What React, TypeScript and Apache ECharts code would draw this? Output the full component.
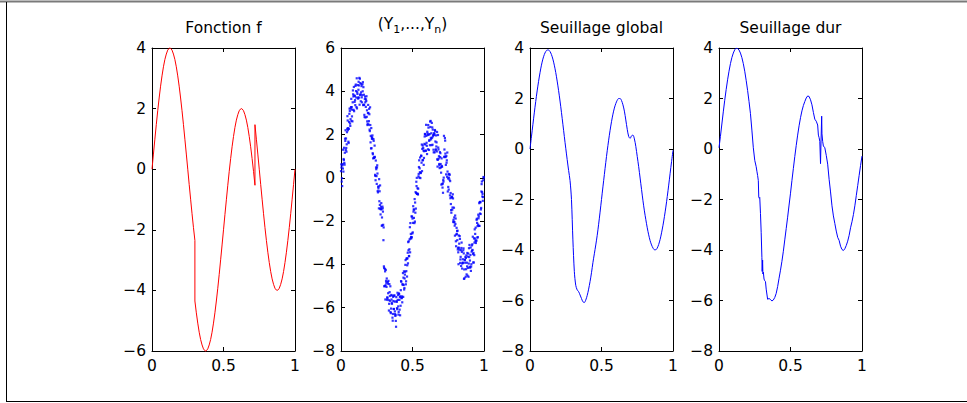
import React, { useEffect, useRef } from "react";
import * as echarts from "echarts";

// Panel titles
const titles = ["Fonction f", "(Y{sub|1},...,Y{sub|n})", "Seuillage global", "Seuillage dur"];

// Axis ranges per panel
const yMins = [-6, -8, -8, -8];
const yMaxs = [4, 6, 4, 4];
const xTicks = [0, 0.5, 1];

// Panel 1: true function f (t, value) — jumps at 0.3 and 0.72
const fPoints: [number, number][] = [
  [0, 0], [0.01, 0.5], [0.02, 0.99], [0.03, 1.47], [0.04, 1.93], [0.05, 2.35], [0.06, 2.74], [0.07, 3.08], [0.08, 3.38], [0.09, 3.62],
  [0.1, 3.8], [0.11, 3.93], [0.12, 3.99], [0.125, 4.0], [0.13, 3.99], [0.14, 3.93], [0.15, 3.8], [0.16, 3.62], [0.17, 3.38], [0.18, 3.08],
  [0.19, 2.74], [0.2, 2.35], [0.21, 1.93], [0.22, 1.47], [0.23, 0.99], [0.24, 0.5], [0.25, 0], [0.26, -0.5], [0.27, -0.99], [0.28, -1.47],
  [0.29, -1.93], [0.3, -2.35], [0.3, -4.35], [0.31, -4.74], [0.32, -5.08], [0.33, -5.38], [0.34, -5.62], [0.35, -5.8], [0.36, -5.93], [0.37, -5.99],
  [0.375, -6.0], [0.38, -5.99], [0.39, -5.93], [0.4, -5.8], [0.41, -5.62], [0.42, -5.38], [0.43, -5.08], [0.44, -4.74], [0.45, -4.35], [0.46, -3.93],
  [0.47, -3.47], [0.48, -2.99], [0.49, -2.5], [0.5, -2.0], [0.51, -1.5], [0.52, -1.01], [0.53, -0.53], [0.54, -0.07], [0.55, 0.35], [0.56, 0.74],
  [0.57, 1.08], [0.58, 1.38], [0.59, 1.62], [0.6, 1.8], [0.61, 1.93], [0.62, 1.99], [0.625, 2.0], [0.63, 1.99], [0.64, 1.93], [0.65, 1.8],
  [0.66, 1.62], [0.67, 1.38], [0.68, 1.08], [0.69, 0.74], [0.7, 0.35], [0.71, -0.07], [0.72, -0.53], [0.72, 1.47], [0.73, 0.99], [0.74, 0.5],
  [0.75, 0], [0.76, -0.5], [0.77, -0.99], [0.78, -1.47], [0.79, -1.93], [0.8, -2.35], [0.81, -2.74], [0.82, -3.08], [0.83, -3.38], [0.84, -3.62],
  [0.85, -3.8], [0.86, -3.93], [0.87, -3.99], [0.875, -4.0], [0.88, -3.99], [0.89, -3.93], [0.9, -3.8], [0.91, -3.62], [0.92, -3.38], [0.93, -3.08],
  [0.94, -2.74], [0.95, -2.35], [0.96, -1.93], [0.97, -1.47], [0.98, -0.99], [0.99, -0.5], [1.0, 0],
];

// Panel 2: noisy observations, set A (t = i/200)
const noisyA = [
  0.31, -0.17, 0.58, 1.3, 0.82, 0.61, 1.71, 1.82, 1.55, 2.85,
  2.3, 2.26, 3.2, 2.4, 3.27, 3.27, 2.61, 3.86, 4.2, 3.51,
  3.36, 4.01, 4.6, 3.88, 3.66, 4.27, 3.38, 4.38, 3.95, 3.72,
  4.32, 3.36, 3.84, 2.81, 3.49, 3.63, 2.82, 2.44, 3.37, 2.62,
  2.23, 2.44, 1.36, 1.88, 1.96, 0.9, 0.93, 1.49, 0.09, 0.48,
  -0.28, 0.2, -0.41, -1.41, -0.62, -1.43, -1.34, -2.21, -1.33, -2.17,
  -4.09, -5.0, -5.62, -4.76, -4.65, -5.55, -5.33, -6.13, -5.28, -5.01,
  -6.04, -5.77, -6.46, -5.5, -6.06, -5.72, -6.38, -6.88, -5.73, -5.31,
  -5.94, -5.34, -6.09, -5.47, -4.77, -5.54, -4.91, -5.5, -4.32, -4.65,
  -4.02, -4.78, -3.72, -3.72, -2.97, -3.61, -2.84, -2.09, -2.73, -2.74,
  -1.88, -1.31, -1.85, -0.98, -1.61, -0.7, 0.0, -0.48, -0.5, 0.5,
  0.44, -0.01, 1.03, 1.54, 0.81, 1.38, 0.92, 1.91, 1.54, 2.45,
  1.48, 2.05, 2.44, 1.29, 2.02, 2.35, 1.78, 2.54, 1.53, 1.98,
  2.05, 1.18, 1.68, 1.96, 1.22, 0.52, 1.4, 1.0, 0.45, 1.14,
  0.24, 0.55, -0.45, -0.1, 1.94, 0.99, 1.12, 0.16, 0.81, 0.29,
  -0.42, 0.01, 0.14, -0.94, -1.49, -0.87, -1.37, -2.03, -1.38, -2.21,
  -2.13, -3.16, -2.59, -2.44, -3.44, -3.23, -2.69, -3.77, -4.07, -3.42,
  -3.93, -3.35, -4.67, -3.78, -3.65, -4.22, -3.92, -4.52, -3.5, -3.25,
  -4.11, -3.56, -4.1, -3.12, -3.33, -3.91, -2.8, -2.38, -2.91, -2.9,
  -1.89, -2.23, -1.7, -2.22, -1.12, -1.13, -1.39, -0.17, -0.74, -0.11,
];

// Panel 2: noisy observations, set B (t = i/200 + 0.0033)
const noisyB = [
  0.48, -0.38, 0.43, 0.87, 0.69, 1.81, 1.29, 1.21, 2.27, 2.2,
  1.61, 2.96, 2.51, 3.2, 2.63, 3.15, 4.04, 3.14, 3.81, 3.59,
  4.31, 3.27, 3.96, 3.71, 4.44, 4.62, 3.83, 3.54, 4.24, 3.82,
  4.42, 3.38, 2.91, 3.75, 3.28, 3.77, 2.61, 2.99, 2.46, 2.94,
  3.26, 1.94, 1.37, 1.84, 1.09, 1.71, 0.95, 0.14, 0.8, 0.08,
  0.58, -0.67, -0.4, -1.08, -0.35, -1.45, -1.45, -2.2, -1.56, -2.29,
  -5.01, -4.32, -4.25, -5.04, -5.52, -4.89, -5.65, -4.91, -5.68, -6.25,
  -5.62, -5.44, -6.29, -6.06, -5.43, -6.29, -6.61, -5.7, -6.07, -5.41,
  -6.2, -5.64, -6.35, -5.19, -5.56, -5.75, -4.4, -4.95, -5.09, -4.34,
  -4.92, -3.74, -4.04, -3.95, -2.93, -3.3, -3.44, -2.59, -1.78, -2.57,
  -2.08, -1.46, -2.09, -1.14, -1.42, -0.38, -0.73, -0.77, 0.18, 0.01,
  0.94, 0.24, 0.7, 1.34, 0.82, 0.6, 1.57, 2.01, 1.25, 1.62,
  2.13, 1.32, 2.0, 1.75, 2.6, 1.85, 1.51, 2.33, 1.92, 1.18,
  2.06, 2.17, 1.32, 1.64, 0.86, 1.98, 0.89, 0.58, 0.96, 0.48,
  0.9, -0.29, -0.69, 0.01, 1.31, 1.72, 0.6, 0.7, 1.17, -0.03,
  -0.54, -0.08, -0.15, -1.21, -0.9, -1.47, -0.95, -2.05, -2.04, -1.74,
  -2.93, -2.31, -2.88, -3.23, -2.66, -3.32, -3.93, -3.34, -2.99, -3.96,
  -3.92, -3.49, -4.64, -3.92, -3.7, -4.46, -3.47, -4.16, -3.96, -3.1,
  -4.15, -4.3, -3.41, -3.07, -3.52, -3.91, -2.99, -2.59, -3.01, -1.94,
  -2.76, -2.16, -1.78, -2.22, -1.11, -1.46, -0.29, -0.86, -0.89, 0.01,
];

// Panel 2: noisy observations, set C (t = i/200 + 0.0017)
const noisyC = [
  0.62, -0.02, 0.64, 0.29, 1.39, 1.16, 2.2, 1.38, 2.11, 2.65,
  1.67, 2.58, 3.09, 2.71, 3.65, 2.84, 3.49, 3.76, 3.08, 3.78,
  4.25, 3.71, 3.21, 4.29, 4.07, 3.71, 4.58, 3.86, 4.34, 3.49,
  4.0, 4.19, 3.37, 3.64, 2.79, 3.55, 3.12, 2.5, 3.0, 3.19,
  2.16, 1.64, 2.3, 1.8, 1.14, 1.79, 0.92, 0.97, -0.11, 0.4,
  0.48, -0.61, -0.49, -0.06, -1.25, -1.69, -1.17, -1.83, -1.41, -2.88,
  -4.16, -4.21, -4.96, -4.85, -5.63, -4.81, -4.76, -5.82, -5.46, -6.2,
  -5.41, -5.82, -6.6, -5.69, -5.45, -6.17, -6.34, -5.51, -6.02, -5.64,
  -6.32, -5.37, -5.51, -5.91, -4.8, -5.48, -4.94, -4.61, -5.16, -4.47,
  -3.8, -4.31, -4.56, -3.46, -3.35, -3.62, -2.28, -2.8, -2.79, -1.79,
  -2.52, -1.56, -1.47, -2.02, -0.66, -0.18, -0.74, -0.74, 0.07, 0.81,
  0.26, 0.22, 1.01, 0.31, 1.49, 1.26, 1.23, 2.03, 1.26, 1.94,
  1.1, 1.98, 2.32, 1.71, 1.51, 2.63, 2.06, 1.85, 2.23, 1.3,
  1.98, 2.21, 1.28, 1.45, 2.12, 0.83, 1.31, 0.64, 1.19, 0.64,
  -0.31, 0.51, -0.26, -0.17, 0.96, 1.84, 0.96, 1.01, 0.05, -0.63,
  0.16, 0.18, -0.81, -0.7, -1.61, -0.9, -0.76, -1.94, -1.83, -2.67,
  -1.88, -2.62, -2.46, -3.31, -3.99, -3.04, -2.82, -3.65, -3.24, -4.19,
  -3.76, -3.26, -4.23, -3.8, -4.57, -3.58, -4.09, -3.64, -4.57, -3.66,
  -3.82, -3.22, -3.99, -3.36, -2.72, -3.47, -3.57, -2.8, -2.3, -2.9,
  -2.08, -2.74, -1.87, -1.17, -1.65, -1.67, -0.63, -0.66, -1.06, 0.04,
];

// Panel 3: global thresholding estimate (t = i/100)
const globalY = [
  0.0, 0.48, 0.96, 1.43, 1.88, 2.3, 2.68, 3.02, 3.32, 3.56,
  3.74, 3.86, 3.92, 3.92, 3.86, 3.74, 3.56, 3.32, 3.03, 2.69,
  2.31, 1.9, 1.45, 0.98, 0.5, 0.03, -0.42, -0.85, -1.25, -2.0,
  -3.6, -4.85, -5.4, -5.58, -5.65, -5.78, -5.92, -6.05, -6.08, -5.98,
  -5.8, -5.55, -5.25, -4.9, -4.5, -4.15, -3.8, -3.42, -2.98, -2.5,
  -2.0, -1.5, -1.01, -0.53, -0.07, 0.35, 0.74, 1.08, 1.38, 1.62,
  1.8, 1.93, 2.0, 2.0, 1.92, 1.75, 1.5, 1.15, 0.78, 0.5,
  0.42, 0.52, 0.55, 0.4, 0.1, -0.3, -0.7, -1.15, -1.6, -2.05,
  -2.45, -2.8, -3.12, -3.4, -3.63, -3.8, -3.92, -3.99, -3.99, -3.92,
  -3.78, -3.58, -3.32, -3.02, -2.68, -2.3, -1.88, -1.43, -0.96, -0.5,
  -0.05,
];

// Panel 4: hard thresholding estimate (t, value)
const hardPoints: [number, number][] = [
  [0, 0.05], [0.01, 0.5], [0.02, 0.99], [0.03, 1.47], [0.04, 1.93], [0.05, 2.35], [0.06, 2.74], [0.07, 3.08], [0.08, 3.38], [0.09, 3.62],
  [0.1, 3.8], [0.11, 3.93], [0.12, 3.99], [0.13, 3.98], [0.14, 3.92], [0.15, 3.8], [0.16, 3.62], [0.17, 3.38], [0.18, 3.08], [0.19, 2.72],
  [0.2, 2.32], [0.21, 1.88], [0.22, 1.4], [0.23, 0.75], [0.24, 0.05], [0.25, -0.45], [0.26, -0.7], [0.265, -0.88], [0.27, -1.05], [0.275, -1.25],
  [0.278, -1.9], [0.282, -1.95], [0.285, -1.92], [0.29, -2.55], [0.295, -3.3], [0.3, -4.3], [0.302, -4.85], [0.305, -4.4], [0.307, -4.95], [0.31, -4.88],
  [0.315, -5.15], [0.32, -5.22], [0.325, -5.25], [0.33, -5.55], [0.34, -5.95], [0.35, -5.92], [0.36, -5.96], [0.37, -6.02], [0.38, -5.98], [0.39, -5.88],
  [0.4, -5.72], [0.41, -5.45], [0.42, -5.12], [0.43, -4.8], [0.44, -4.45], [0.45, -4.05], [0.46, -3.6], [0.47, -3.15], [0.48, -2.7], [0.49, -2.22],
  [0.5, -1.75], [0.51, -1.25], [0.52, -0.77], [0.53, -0.3], [0.54, 0.14], [0.55, 0.55], [0.56, 0.92], [0.57, 1.24], [0.58, 1.51], [0.59, 1.72],
  [0.6, 1.88], [0.61, 2.02], [0.62, 2.1], [0.63, 2.08], [0.64, 1.95], [0.65, 1.75], [0.66, 1.45], [0.67, 1.18], [0.68, 1.1], [0.69, 0.95],
  [0.695, 0.55], [0.7, 0.45], [0.705, 0.3], [0.71, -0.58], [0.713, 0.2], [0.718, 1.3], [0.72, 0.6], [0.725, 0.3], [0.73, 0.12], [0.74, 0.05],
  [0.75, -0.25], [0.76, -0.6], [0.77, -1.2], [0.78, -1.7], [0.79, -2.25], [0.8, -2.65], [0.81, -2.95], [0.82, -3.25], [0.83, -3.5], [0.84, -3.62],
  [0.85, -3.85], [0.86, -3.98], [0.87, -4.02], [0.88, -3.95], [0.89, -3.82], [0.9, -3.65], [0.91, -3.42], [0.92, -3.12], [0.93, -2.88], [0.94, -2.6],
  [0.95, -2.25], [0.96, -1.85], [0.97, -1.45], [0.98, -1.05], [0.99, -0.65], [1.0, -0.28],
];

const FONT = "DejaVu Sans";
const FS = 15.5;

const fmtNum = (v: number) => (v < 0 ? "\u2212" + String(Math.abs(v)) : String(v));

export default function App() {
  const ref = useRef<HTMLDivElement>(null);
  useEffect(() => {
    if (!ref.current) return;
    const chart = echarts.init(ref.current, null, { renderer: "svg" });
    const lefts = [152, 341, 530, 719];
    const top = 48;
    const w = 143;
    const h = 303;
    const grid = lefts.map((l) => ({ left: l, top, width: w, height: h, show: false }));
    const xAxis: any[] = [];
    const yAxis: any[] = [];
    lefts.forEach((_, g) => {
      const common = {
        gridIndex: g,
        axisLine: { show: true, onZero: false, lineStyle: { color: "#000", width: 1 } },
        axisTick: { show: true, inside: true, length: 4, lineStyle: { color: "#000" } },
        splitLine: { show: false },
      };
      xAxis.push({
        ...common,
        type: "value",
        position: "bottom",
        min: xTicks[0],
        max: xTicks[xTicks.length - 1],
        interval: 0.5,
        axisLabel: { show: true, color: "#000", fontFamily: FONT, fontSize: FS, margin: 7, formatter: (v: number) => fmtNum(v) },
      });
      xAxis.push({
        ...common,
        type: "value",
        position: "top",
        min: xTicks[0],
        max: xTicks[xTicks.length - 1],
        interval: 0.5,
        axisLabel: { show: false },
      });
      yAxis.push({
        ...common,
        type: "value",
        position: "left",
        min: yMins[g],
        max: yMaxs[g],
        interval: 2,
        axisLabel: { show: true, color: "#000", fontFamily: FONT, fontSize: FS, margin: 6, formatter: (v: number) => fmtNum(v) },
      });
      yAxis.push({
        ...common,
        type: "value",
        position: "right",
        min: yMins[g],
        max: yMaxs[g],
        interval: 2,
        axisLabel: { show: false },
      });
    });

    const dot = { symbol: "rect", symbolSize: 2.2, itemStyle: { color: "#0000ff" } };
    const series: any[] = [
      {
        type: "line",
        xAxisIndex: 0,
        yAxisIndex: 0,
        data: fPoints,
        showSymbol: false,
        lineStyle: { color: "#ff0000", width: 1 },
        clip: false,
      },
      { type: "scatter", xAxisIndex: 2, yAxisIndex: 2, data: noisyA.map((v, i) => [i / 200, v]), ...dot },
      { type: "scatter", xAxisIndex: 2, yAxisIndex: 2, data: noisyC.map((v, i) => [i / 200 + 0.0017, v]), ...dot },
      { type: "scatter", xAxisIndex: 2, yAxisIndex: 2, data: noisyB.map((v, i) => [i / 200 + 0.0033, v]), ...dot },
      {
        type: "line",
        xAxisIndex: 4,
        yAxisIndex: 4,
        data: globalY.map((v, i) => [i / 100, v]),
        showSymbol: false,
        smooth: 0.3,
        lineStyle: { color: "#0000ff", width: 1 },
      },
      {
        type: "line",
        xAxisIndex: 6,
        yAxisIndex: 6,
        data: hardPoints,
        showSymbol: false,
        lineStyle: { color: "#0000ff", width: 1 },
      },
    ];

    const centers = lefts.map((l) => l + w / 2);
    const graphic: any[] = [
      { type: "line", shape: { x1: 0, y1: 1.5, x2: 967, y2: 1.5 }, style: { stroke: "#7a7a7a", lineWidth: 2 } },
      { type: "line", shape: { x1: 6.5, y1: 2, x2: 6.5, y2: 401.5 }, style: { stroke: "#000", lineWidth: 1 } },
      { type: "line", shape: { x1: 6, y1: 401.5, x2: 967, y2: 401.5 }, style: { stroke: "#000", lineWidth: 1 } },
    ];
    titles.forEach((t, i) => {
      graphic.push({
        type: "text",
        x: centers[i],
        y: i === 1 ? 24 : 28,
        style: {
          text: t,
          fontFamily: FONT,
          fontSize: FS,
          fill: "#000",
          align: "center",
          verticalAlign: "middle",
          rich: {
            sub: { fontFamily: FONT, fontSize: 11, fill: "#000", padding: [11, 0, 0, 0] },
          },
        },
      });
    });

    chart.setOption({
      animation: false,
      backgroundColor: "#fff",
      grid,
      xAxis,
      yAxis,
      series,
      graphic,
    });
    return () => chart.dispose();
  }, []);
  return <div ref={ref} style={{ position: "fixed", left: 0, top: 0, width: 967, height: 403 }} />;
}
